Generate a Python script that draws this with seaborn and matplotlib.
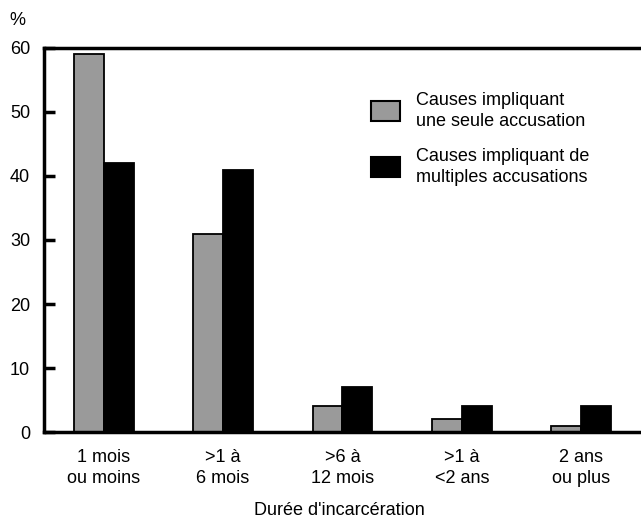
import numpy as np
import pandas as pd
import matplotlib
matplotlib.use("Agg")
import matplotlib.pyplot as plt
import seaborn as sns
from matplotlib.patches import Patch

categories = ["1 mois\nou moins", ">1 à\n6 mois", ">6 à\n12 mois", ">1 à\n<2 ans", "2 ans\nou plus"]
series_names = ["Causes impliquant\nune seule accusation", "Causes impliquant de\nmultiples accusations"]
single_charge = [59, 31, 4, 2, 1]
multiple_charges = [42, 41, 7, 4, 4]
y_ticks = [0, 10, 20, 30, 40, 50, 60]

df = pd.DataFrame({
    "cat": categories * 2,
    "serie": [series_names[0]] * 5 + [series_names[1]] * 5,
    "val": single_charge + multiple_charges,
})

sns.set_style("white")
plt.rcParams["font.family"] = ["Liberation Sans", "DejaVu Sans"]
plt.rcParams["text.color"] = "black"
plt.rcParams["xtick.color"] = "black"
plt.rcParams["ytick.color"] = "black"

colors = ["#9a9a9a", "#000000"]
fs = 13

fig = plt.figure(figsize=(6.41, 5.21), dpi=100)
ax = fig.add_axes([0.0686, 0.1708, 0.9314, 0.7371])

sns.barplot(data=df, x="cat", y="val", hue="serie", order=categories,
            hue_order=series_names, palette=colors, width=0.5,
            edgecolor="black", linewidth=1.3, saturation=1, ax=ax, legend=False)

ax.set_ylim(0, 60)
ax.set_xlim(-0.5, 4.5)
ax.set_yticks(y_ticks)
ax.set_yticklabels([str(t) for t in y_ticks], fontsize=fs)
ax.tick_params(axis="y", direction="in", length=8, width=2.5, pad=10, left=True)
ax.tick_params(axis="x", length=0, pad=12, labelsize=fs)
for lab in ax.get_xticklabels():
    lab.set_linespacing(1.3)

for s in ["left", "top", "bottom"]:
    ax.spines[s].set_visible(True)
    ax.spines[s].set_linewidth(2.5)
    ax.spines[s].set_color("black")
ax.spines["right"].set_visible(False)

ax.set_xlabel("")
ax.set_ylabel("")
fig.text(0.53, 0.02, "Durée d'incarcération", ha="center", va="center", fontsize=fs)
fig.text(0.015, 0.96, "%", ha="left", va="center", fontsize=fs)

handles = [Patch(facecolor=colors[0], edgecolor="black", linewidth=1.5, label=series_names[0]),
           Patch(facecolor=colors[1], edgecolor="black", linewidth=1.5, label=series_names[1])]
leg = ax.legend(handles=handles, loc="upper left", bbox_to_anchor=(0.521, 0.928), frameon=False,
                fontsize=fs, handlelength=1.6, handleheight=1.35, handletextpad=0.85,
                labelspacing=1.0)
for t in leg.get_texts():
    t.set_linespacing(1.3)

fig.savefig("out.png", dpi=100)
